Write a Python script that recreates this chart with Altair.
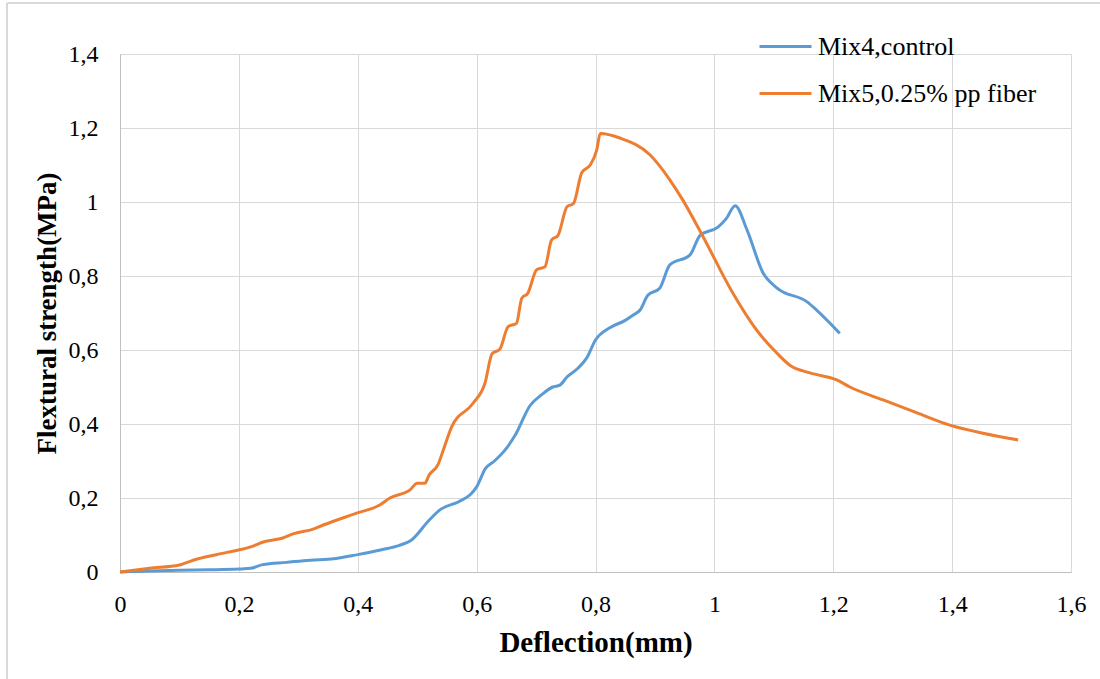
import altair as alt
import pandas as pd

mix4_x = [0, 0.05, 0.1, 0.15, 0.2, 0.22, 0.24, 0.28, 0.32, 0.36, 0.4, 0.44, 0.47, 0.49, 0.52,
          0.54, 0.57, 0.59, 0.6, 0.615, 0.63, 0.648, 0.665, 0.69, 0.71, 0.728, 0.74, 0.752,
          0.77, 0.785, 0.8, 0.824, 0.85, 0.863, 0.875, 0.888, 0.908, 0.925, 0.959, 0.976,
          1.006, 1.02, 1.035, 1.055, 1.082, 1.105, 1.156, 1.172, 1.211]
mix4_y = [0, 0.003, 0.005, 0.006, 0.008, 0.01, 0.02, 0.026, 0.032, 0.036, 0.047, 0.06, 0.072,
          0.086, 0.14, 0.17, 0.19, 0.21, 0.23, 0.28, 0.3, 0.33, 0.37, 0.45, 0.48, 0.50, 0.505,
          0.527, 0.55, 0.578, 0.627, 0.66, 0.68, 0.694, 0.708, 0.748, 0.767, 0.83, 0.857, 0.91,
          0.932, 0.955, 0.99, 0.924, 0.808, 0.768, 0.73, 0.708, 0.645]

mix5_x = [0, 0.05, 0.1, 0.106, 0.13, 0.18, 0.224, 0.241, 0.274, 0.291, 0.325, 0.342, 0.398,
          0.437, 0.454, 0.488, 0.5, 0.513, 0.52, 0.535, 0.544, 0.558, 0.594, 0.614, 0.626,
          0.639, 0.653, 0.667, 0.676, 0.686, 0.701, 0.715, 0.726, 0.737, 0.752, 0.763, 0.777,
          0.791, 0.802, 0.808, 0.841, 0.892, 0.925, 0.947, 0.981, 1.031, 1.071, 1.105, 1.127,
          1.161, 1.206, 1.228, 1.284, 1.341, 1.396, 1.452, 1.511]
mix5_y = [0, 0.01, 0.019, 0.022, 0.035, 0.053, 0.07, 0.081, 0.092, 0.103, 0.116, 0.127, 0.159,
          0.181, 0.2, 0.222, 0.24, 0.24, 0.262, 0.29, 0.33, 0.392, 0.456, 0.51, 0.59, 0.602,
          0.663, 0.672, 0.74, 0.753, 0.817, 0.825, 0.897, 0.91, 0.987, 0.996, 1.08, 1.10, 1.14,
          1.185, 1.173, 1.127, 1.06, 1.005, 0.906, 0.754, 0.654, 0.592, 0.559, 0.538, 0.519,
          0.5, 0.465, 0.43, 0.397, 0.375, 0.357]

series_names = ["Mix4,control", "Mix5,0.25% pp fiber"]
series_colors = ["#5B9BD5", "#ED7D31"]
x_ticks = [0, 0.2, 0.4, 0.6, 0.8, 1.0, 1.2, 1.4, 1.6]
y_ticks = [0, 0.2, 0.4, 0.6, 0.8, 1.0, 1.2, 1.4]

df = pd.concat([
    pd.DataFrame({"x": mix4_x, "y": mix4_y, "s": series_names[0], "o": range(len(mix4_x))}),
    pd.DataFrame({"x": mix5_x, "y": mix5_y, "s": series_names[1], "o": range(len(mix5_x))}),
])

FONT = "Liberation Serif"
comma = "replace(toString(datum.value), '.', ',')"

lines = alt.Chart(df).mark_line(strokeWidth=3, interpolate="monotone").encode(
    x=alt.X("x:Q", scale=alt.Scale(domain=[0, 1.6], nice=False),
            axis=alt.Axis(values=x_ticks, labelExpr=comma, title="Deflection(mm)",
                          grid=True, gridColor="#d9d9d9", domainColor="#bfbfbf",
                          ticks=False, labelPadding=20, labelFontSize=24, labelFont=FONT,
                          labelFlush=False, labelOverlap=False,
                          labelColor="#000000", titleFont=FONT, titleFontSize=29,
                          titleFontWeight="bold", titleColor="#000000",
                          titleY=70, titleBaseline="middle")),
    y=alt.Y("y:Q", scale=alt.Scale(domain=[0, 1.4], nice=False),
            axis=alt.Axis(values=y_ticks, labelExpr=comma, title="Flextural strength(MPa)",
                          grid=True, gridColor="#d9d9d9", domainColor="#bfbfbf",
                          ticks=False, labelPadding=22, labelFontSize=24, labelFont=FONT,
                          labelFlush=False, labelOverlap=False,
                          labelColor="#000000", titleFont=FONT, titleFontSize=27,
                          titleFontWeight="bold", titleColor="#000000",
                          titleX=-73, titleY=259, titleBaseline="middle")),
    color=alt.Color("s:N", scale=alt.Scale(domain=series_names, range=series_colors),
                    legend=alt.Legend(title=None, orient="none", legendX=638, legendY=-30,
                                      symbolType="stroke", symbolSize=2704,
                                      symbolStrokeWidth=3, labelFont=FONT, labelFontSize=26,
                                      labelColor="#000000", labelOffset=5, clipHeight=45,
                                      labelLimit=0, rowPadding=2, padding=0)),
    order="o:Q",
)

frame_left = alt.Chart().mark_rule(color="#d9d9d9", strokeWidth=2).encode(
    x=alt.value(-113), y=alt.value(-51), y2=alt.value(630))
frame_top = alt.Chart().mark_rule(color="#d9d9d9", strokeWidth=2).encode(
    y=alt.value(-51), x=alt.value(-113), x2=alt.value(985))

chart = alt.layer(lines, frame_left, frame_top).properties(
    width=951, height=518,
    autosize=alt.AutoSizeParams(type="none"),
    padding={"left": 120, "top": 54, "right": 29, "bottom": 107},
    background="white",
).configure_view(stroke=None).configure_legend(labelFont=FONT, labelLimit=0)

chart.save("out.html", embed_options={"renderer": "svg", "actions": False})
